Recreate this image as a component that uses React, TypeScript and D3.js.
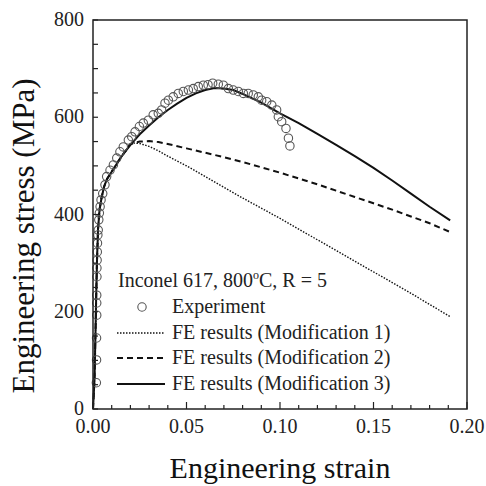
import React from 'react';
import * as d3 from 'd3';

const W = 486;
const H = 486;
const PL = 93, PR = 467, PT = 20, PB = 409;
const FONT = '"Liberation Serif", "Times New Roman", serif';

const xTickValues = [0, 0.05, 0.1, 0.15, 0.2];
const xTickLabels = ['0.00', '0.05', '0.10', '0.15', '0.20'];
const yTickValues = [0, 200, 400, 600, 800];
const yTickLabels = ['0', '200', '400', '600', '800'];

const expStrain = [0.0018, 0.0019, 0.0019, 0.002, 0.002, 0.002, 0.0021, 0.0021, 0.0022, 0.0023, 0.0024, 0.0026, 0.0028, 0.0031, 0.0034, 0.0038, 0.0043, 0.0052, 0.0064, 0.0073, 0.0091, 0.0109, 0.0127, 0.0144, 0.0162, 0.0189, 0.0207, 0.0225, 0.0248, 0.0269, 0.0296, 0.0322, 0.0349, 0.0367, 0.0385, 0.0403, 0.0429, 0.0456, 0.0483, 0.051, 0.0536, 0.0563, 0.059, 0.0615, 0.064, 0.067, 0.0697, 0.0724, 0.075, 0.0777, 0.0804, 0.083, 0.0857, 0.0884, 0.0902, 0.0929, 0.0956, 0.0982, 0.0991, 0.1009, 0.1032, 0.1045, 0.1053];
const expStress = [54, 101, 146, 193, 218, 234, 272, 290, 306, 323, 341, 358, 368, 389, 403, 416, 430, 443, 461, 478, 491, 502, 516, 529, 539, 553, 560, 570, 581, 588, 594, 605, 608, 615, 629, 635, 642, 649, 653, 656, 659, 663, 666, 667, 670, 668, 666, 659, 656, 653, 649, 649, 646, 642, 635, 632, 625, 615, 601, 591, 577, 557, 541];

const mod1Strain = [0, 0.0008, 0.0013, 0.0017, 0.0021, 0.0027, 0.0035, 0.0047, 0.006, 0.0075, 0.01, 0.015, 0.02, 0.022, 0.025, 0.03, 0.035, 0.04, 0.05, 0.06, 0.07, 0.08, 0.09, 0.1, 0.11, 0.12, 0.13, 0.14, 0.15, 0.16, 0.17, 0.18, 0.191];
const mod1Stress = [0, 60, 150, 230, 300, 370, 410, 437, 458, 473, 488, 518, 543, 547, 546, 540, 531, 520, 500, 478, 456, 434, 413, 392, 370, 348, 326, 304, 282, 260, 238, 215, 190];

const mod2Strain = [0, 0.0008, 0.0013, 0.0017, 0.0021, 0.0027, 0.0035, 0.0047, 0.006, 0.0075, 0.01, 0.015, 0.02, 0.025, 0.03, 0.035, 0.04, 0.05, 0.06, 0.07, 0.08, 0.09, 0.1, 0.11, 0.12, 0.13, 0.14, 0.15, 0.16, 0.17, 0.18, 0.191];
const mod2Stress = [0, 60, 150, 230, 300, 370, 410, 437, 458, 473, 488, 518, 545, 550, 551, 549, 545, 536, 527, 518, 508, 497, 486, 474, 462, 449, 436, 423, 410, 396, 382, 364];

const mod3Strain = [0, 0.0008, 0.0013, 0.0017, 0.0021, 0.0027, 0.0035, 0.0047, 0.006, 0.0075, 0.01, 0.015, 0.02, 0.025, 0.03, 0.035, 0.04, 0.045, 0.05, 0.055, 0.06, 0.065, 0.07, 0.075, 0.08, 0.09, 0.1, 0.11, 0.12, 0.13, 0.14, 0.15, 0.16, 0.17, 0.18, 0.191];
const mod3Stress = [0, 60, 150, 230, 300, 370, 410, 437, 458, 473, 488, 518, 543, 565, 583, 600, 615, 628, 640, 649, 656, 660, 659, 656, 648, 630, 608, 588, 566, 543, 520, 496, 470, 443, 416, 388];

const legendTitle = 'Inconel 617, 800';
const legendLabels = ['Experiment', 'FE results (Modification 1)', 'FE results (Modification 2)', 'FE results (Modification 3)'];

export default function App() {
  const x = d3.scaleLinear().domain([0, 0.2]).range([PL, PR]);
  const y = d3.scaleLinear().domain([0, 800]).range([PB, PT]);
  const line = d3.line<[number, number]>().x(d => x(d[0])).y(d => y(d[1]));
  const zip = (a: number[], b: number[]) => a.map((v, i) => [v, b[i]] as [number, number]);

  const xMinor = d3.range(0, 0.2001, 0.01);
  const yMinor = d3.range(0, 801, 50);

  const series = [
    { d: line(zip(mod1Strain, mod1Stress)), dash: '1.5,1.5', w: 1.4 },
    { d: line(zip(mod2Strain, mod2Stress)), dash: '6,4', w: 2 },
    { d: line(zip(mod3Strain, mod3Stress)), dash: undefined, w: 2 },
  ];

  const lx = 118, ix1 = 117, ix2 = 165, tx = 172;
  const rows = [313, 339, 364, 390];

  return (
    <svg width={W} height={H} style={{ position: 'absolute', left: 0, top: 0, background: '#fff' }} fontFamily={FONT}>
      <rect x={0} y={0} width={W} height={H} fill="#fff" />
      {series.map((s, i) => (
        <path key={i} d={s.d || ''} fill="none" stroke="#111" strokeWidth={s.w} strokeDasharray={s.dash} />
      ))}
      {expStrain.map((v, i) => (
        <circle key={i} cx={x(v)} cy={y(expStress[i])} r={4.2} fill="none" stroke="#555" strokeWidth={1.1} />
      ))}
      <rect x={PL} y={PT} width={PR - PL} height={PB - PT} fill="none" stroke="#222" strokeWidth={1.5} />
      {xMinor.map((v, i) => {
        const major = i % 5 === 0;
        return <line key={i} x1={x(v)} x2={x(v)} y1={PB} y2={PB - (major ? 7 : 4)} stroke="#222" strokeWidth={1.2} />;
      })}
      {yMinor.map((v, i) => (
        <line key={i} x1={PL} x2={PL + 5} y1={y(v)} y2={y(v)} stroke="#222" strokeWidth={1.2} />
      ))}
      {xTickValues.map((v, i) => (
        <text key={i} x={x(v)} y={433} fontSize={20} textAnchor="middle" fill="#222">{xTickLabels[i]}</text>
      ))}
      {yTickValues.map((v, i) => (
        <text key={i} x={84} y={y(v) + 6} fontSize={20} textAnchor="end" fill="#222">{yTickLabels[i]}</text>
      ))}
      <text x={280} y={478} fontSize={30} textAnchor="middle" fill="#111">Engineering strain</text>
      <text transform={`translate(34,236) rotate(-90)`} fontSize={31} textAnchor="middle" fill="#111">Engineering stress (MPa)</text>
      <text x={lx} y={287} fontSize={20} fill="#222">
        {legendTitle}
        <tspan dy={-8} fontSize={12}>o</tspan>
        <tspan dy={8}>C, R = 5</tspan>
      </text>
      <circle cx={142} cy={rows[0] - 6} r={4.2} fill="none" stroke="#555" strokeWidth={1.1} />
      {series.map((s, i) => (
        <line key={i} x1={ix1} x2={ix2} y1={rows[i + 1] - 6} y2={rows[i + 1] - 6} stroke="#111" strokeWidth={s.w} strokeDasharray={s.dash} />
      ))}
      {legendLabels.map((t, i) => (
        <text key={i} x={tx} y={rows[i]} fontSize={20} fill="#222">{t}</text>
      ))}
    </svg>
  );
}
